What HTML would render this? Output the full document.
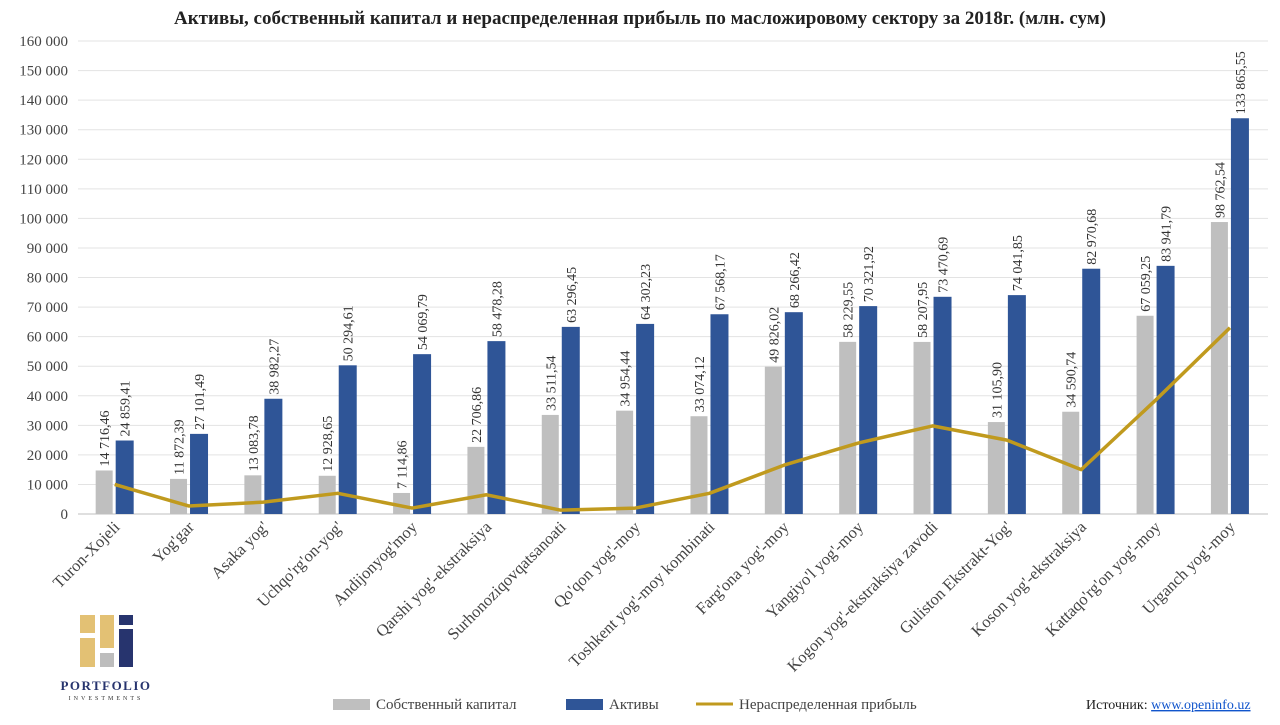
<!DOCTYPE html>
<html><head><meta charset="utf-8">
<style>
body{margin:0;background:#fff;width:1280px;height:725px;overflow:hidden;font-family:"Liberation Serif",serif;}
svg{display:block}
</style></head>
<body>
<svg id="chart" width="1280" height="725">
<text x="640" y="24" text-anchor="middle" font-size="19" font-weight="bold" fill="#222">Активы, собственный капитал и нераспределенная прибыль по масложировому сектору за 2018г. (млн. сум)</text>
<g id="grid"></g><g id="bars"></g><g id="line"></g><g id="labels"></g>
<g>
<rect x="80" y="615" width="15" height="18" fill="#e3c174"/>
<rect x="80" y="638" width="15" height="29" fill="#e3c174"/>
<rect x="100" y="615" width="14" height="33" fill="#e3c174"/>
<rect x="100" y="653" width="14" height="14" fill="#bdbdbd"/>
<rect x="119" y="615" width="14" height="10" fill="#27346e"/>
<rect x="119" y="629" width="14" height="38" fill="#27346e"/>
<text x="106" y="690" text-anchor="middle" font-size="13" font-weight="bold" fill="#27346e" letter-spacing="1.5">PORTFOLIO</text>
<text x="106" y="700" text-anchor="middle" font-size="6" fill="#333" letter-spacing="3">INVESTMENTS</text>
</g>
<g font-size="15" fill="#444">
<rect x="333" y="699" width="37" height="11" fill="#bfbfbf"/>
<text x="376" y="709">Собственный капитал</text>
<rect x="566" y="699" width="37" height="11" fill="#2f5597"/>
<text x="609" y="709">Активы</text>
<line x1="696" y1="704" x2="733" y2="704" stroke="#c09a1e" stroke-width="3"/>
<text x="739" y="709">Нераспределенная прибыль</text>
</g>
<text x="1086" y="709" font-size="14" fill="#222">Источник: <tspan fill="#1155cc" text-decoration="underline">www.openinfo.uz</tspan></text>
</svg>
<script>
const categories=["Turon-Xojeli","Yog'gar","Asaka yog'","Uchqo'rg'on-yog'","Andijonyog'moy","Qarshi yog'-ekstraksiya","Surhonoziqovqatsanoati","Qo'qon yog'-moy","Toshkent yog'-moy kombinati","Farg'ona yog'-moy","Yangiyo'l yog'-moy","Kogon yog'-ekstraksiya zavodi","Guliston Ekstrakt-Yog'","Koson yog'-ekstraksiya","Kattaqo'rg'on yog'-moy","Urganch yog'-moy"];
const equity=[14716.46,11872.39,13083.78,12928.65,7114.86,22706.86,33511.54,34954.44,33074.12,49826.02,58229.55,58207.95,31105.90,34590.74,67059.25,98762.54];
const assets=[24859.41,27101.49,38982.27,50294.61,54069.79,58478.28,63296.45,64302.23,67568.17,68266.42,70321.92,73470.69,74041.85,82970.68,83941.79,133865.55];
const profit=[10000,2700,4000,7000,2000,6500,1300,2000,7000,16500,24000,29800,25000,15000,38500,63000];
const yTicks=[0,10000,20000,30000,40000,50000,60000,70000,80000,90000,100000,110000,120000,130000,140000,150000,160000];
const NS="http://www.w3.org/2000/svg";
const y=v=>514-v*(473/160000);
const step=74.35, x0=77.5;
const cx=i=>x0+step*(i+0.5);
const fmt=v=>{let [a,b]=v.toFixed(2).split(".");a=a.replace(/\B(?=(\d{3})+(?!\d))/g," ");return a+","+b;};
function mk(tag,attrs,parent){const e=document.createElementNS(NS,tag);for(const k in attrs)e.setAttribute(k,attrs[k]);parent.appendChild(e);return e;}
const grid=document.getElementById('grid'),bars=document.getElementById('bars'),lab=document.getElementById('labels'),ln=document.getElementById('line');
yTicks.forEach(t=>{
 const l=mk('line',{x1:78,x2:1268,y1:y(t),y2:y(t),stroke:t==0?'#bfbfbf':'#e3e3e3','stroke-width':1},grid);
 
 
 const tx=mk('text',{x:68,y:y(t)+5,'text-anchor':'end','font-size':15,fill:'#444'},grid);
 tx.textContent=t.toLocaleString('en').replace(/,/g,' ');
 
 
});
categories.forEach((c,i)=>{
 const x=cx(i);
 const g=mk('rect',{x:x-19,y:y(equity[i]),width:17,height:514-y(equity[i]),fill:'#bfbfbf'},bars);
 
 
 const b=mk('rect',{x:x+1,y:y(assets[i]),width:18,height:514-y(assets[i]),fill:'#2f5597'},bars);
 
 
 [[x-10.5,equity[i]],[x+10,assets[i]]].forEach(([bx,v])=>{
  const t=mk('text',{x:0,y:0,'font-size':14,fill:'#333',transform:`translate(${bx+5},${y(v)-4}) rotate(-90)`},lab);
  t.textContent=fmt(v);
  
  
 });
 const ct=mk('text',{x:0,y:0,'font-size':16.5,fill:'#444','text-anchor':'end',transform:`translate(${x+6},${528}) rotate(-45)`},lab);
 ct.textContent=c;
 
 
});
const p=mk('polyline',{points:profit.map((v,i)=>cx(i)+','+y(v)).join(' '),fill:'none',stroke:'#c09a1e','stroke-width':3.5,'stroke-linejoin':'round'},ln);


</script>
</body></html>
